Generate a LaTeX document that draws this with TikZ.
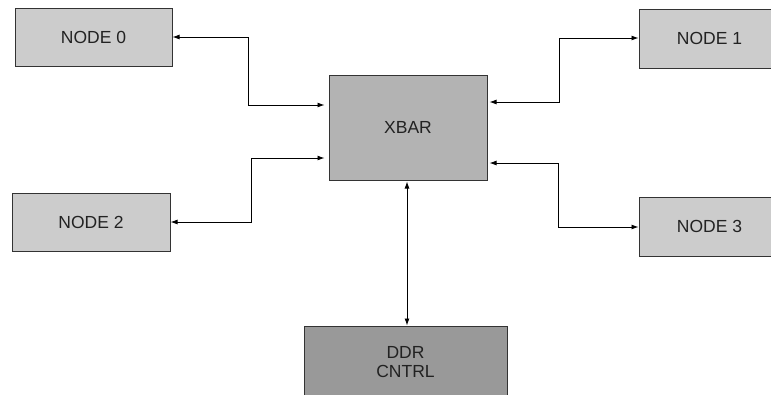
\documentclass[tikz,border=0pt]{standalone}
\usepackage{fontspec}
\setmainfont{Liberation Sans}
\usetikzlibrary{arrows.meta}
\definecolor{nodefill}{HTML}{CCCCCC}
\definecolor{xbarfill}{HTML}{B3B3B3}
\definecolor{ddrfill}{HTML}{999999}
\definecolor{edge}{HTML}{333333}
\definecolor{ink}{HTML}{222222}
\begin{document}
\begin{tikzpicture}[x=1pt,y=-1pt,
  box/.style={draw=edge,line width=1pt,inner sep=0pt,align=center,
    text=ink,font=\fontsize{17.5}{18.5}\selectfont},
  nodebox/.style={box,fill=nodefill},
  link/.style={draw=black,line width=0.9pt,
    {Latex[length=7pt,width=5pt]}-{Latex[length=7pt,width=5pt]}}]
\clip (0,0) rectangle (771,394);
\useasboundingbox (0,0) rectangle (771,394);

% blocks
\node[nodebox,minimum width=157,minimum height=58] (n0) at (93.5,37) {NODE 0};
\node[nodebox,minimum width=141,minimum height=59] (n1) at (709.5,38.5) {NODE 1};
\node[nodebox,minimum width=158,minimum height=58] (n2) at (91,222) {NODE 2};
\node[nodebox,minimum width=141,minimum height=59] (n3) at (709.5,226.5) {NODE 3};
\node[box,fill=xbarfill,minimum width=158,minimum height=105] (xbar) at (408,127.5) {XBAR};
\node[box,fill=ddrfill,minimum width=203,minimum height=72] (ddr) at (405.5,362) {DDR\\CNTRL};

% crossbar ports
\coordinate (p0) at ([xshift=-4pt]xbar.west |- 0,105);
\coordinate (p2) at ([xshift=-4pt]xbar.west |- 0,158);
\coordinate (p1) at ([xshift=2pt]xbar.east |- 0,102);
\coordinate (p3) at ([xshift=2pt]xbar.east |- 0,163);

% links
\draw[link] (n0.east) -- (248,37) |- (p0);
\draw[link] (n2.east) -- (251,222) |- (p2);
\draw[link] (n1.west |- 0,38) -- (559,38) |- (p1);
\draw[link] (p3) -- (558,163) |- (n3.west |- 0,227);
\draw[link] ([yshift=-1pt]xbar.south -| 407,0) -- (ddr.north -| 407,0);
\end{tikzpicture}
\end{document}
